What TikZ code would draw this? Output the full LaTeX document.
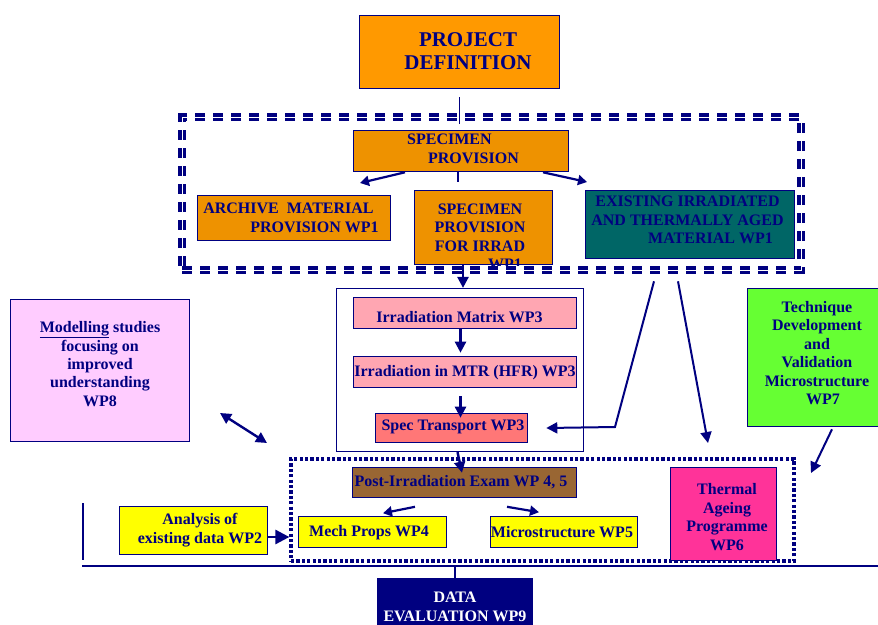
\documentclass[tikz,border=0pt]{standalone}
\usepackage{fontspec}
\setmainfont{Liberation Serif}
\usetikzlibrary{arrows.meta}
\definecolor{nv}{RGB}{0,0,128}
\definecolor{orA}{RGB}{255,153,0}
\definecolor{orB}{RGB}{238,146,0}
\definecolor{cteal}{RGB}{0,102,102}
\definecolor{pinkA}{RGB}{255,166,178}
\definecolor{csal}{RGB}{255,119,119}
\definecolor{brn}{RGB}{153,102,51}
\definecolor{yel}{RGB}{255,255,0}
\definecolor{hot}{RGB}{255,51,153}
\definecolor{lil}{RGB}{255,204,255}
\definecolor{grn}{RGB}{102,255,51}
\begin{document}
\begin{tikzpicture}[x=1pt,y=-1pt,
  box/.style={draw=nv, line width=1.6pt, inner sep=0pt},
  txt/.style={inner sep=0pt, align=center, text=nv, font=\bfseries\fontsize{16}{18.4}\selectfont},
  arr/.style={draw=nv, line width=2.4pt, -{Triangle[length=11pt,width=11pt]}},
  arrs/.style={draw=nv, line width=2.2pt, -{Triangle[length=9pt,width=10pt]}},
  ln/.style={draw=nv, line width=1.5pt},
]
\useasboundingbox[fill=white] (0,0) rectangle (878,624);

% group frames
\node[draw=nv, line width=3.5pt, double=white, double distance=0.6pt, dash pattern=on 10pt off 8pt, minimum width=619pt, minimum height=153pt, inner sep=0pt] (grpA) at (491.5,193.5) {};
\node[draw=nv, line width=3.2pt, dash pattern=on 3.2pt off 2.2pt, minimum width=503pt, minimum height=102pt, inner sep=0pt] (grpB) at (542.5,510) {};
\node[draw=nv, line width=1.2pt, minimum width=247pt, minimum height=163pt, inner sep=0pt] (inner) at (460,370) {};

% boxes
\node[box, fill=orA, minimum width=200pt, minimum height=73pt] (pd) at (459.5,52) {};
\node[box, fill=orB, minimum width=215pt, minimum height=41pt] (sp) at (461,151) {};
\node[box, fill=orB, minimum width=193pt, minimum height=45pt] (am) at (294,218) {};
\node[box, fill=orB, minimum width=138pt, minimum height=74pt] (spi) at (483.5,227.5) {};
\node[box, fill=cteal, minimum width=209pt, minimum height=68pt] (ex) at (690,224.5) {};
\node[box, fill=pinkA, minimum width=223pt, minimum height=31pt] (im) at (465,313) {};
\node[box, fill=pinkA, minimum width=223pt, minimum height=31pt] (mtr) at (465,372) {};
\node[box, fill=csal, minimum width=152pt, minimum height=29pt] (st) at (451.5,428) {};
\node[box, fill=lil, minimum width=179pt, minimum height=142pt] (mod) at (100,370.5) {};
\node[box, fill=grn, minimum width=142pt, minimum height=138pt] (tech) at (818.5,357.5) {};
\node[box, fill=brn, minimum width=224pt, minimum height=30pt] (pie) at (464.5,482.5) {};
\node[box, fill=yel, minimum width=148pt, minimum height=31pt] (mp) at (372.5,532) {};
\node[box, fill=yel, minimum width=147pt, minimum height=31pt] (ms) at (564,532) {};
\node[box, fill=hot, minimum width=106pt, minimum height=93pt] (ta) at (723.5,514) {};
\node[box, fill=yel, minimum width=148pt, minimum height=48pt] (an) at (193.5,530.5) {};
\node[box, fill=nv, minimum width=155pt, minimum height=61pt] (de) at (455,609) {};

% texts
\node[txt, font=\bfseries\fontsize{21}{23}\selectfont] (pdT) at (468,51) {PROJECT\\DEFINITION};
\node[txt, align=left] (spT) at (463,149) {SPECIMEN\\\hspace*{21pt}PROVISION};
\node[txt, align=left] (amT) at (291,218) {ARCHIVE~ MATERIAL\\\hspace*{47pt}PROVISION WP1};
\begin{scope}
\clip (spi.north west) rectangle (spi.south east);
\node[txt] (spiT) at (480,237) {SPECIMEN\\PROVISION\\FOR IRRAD\\\hspace*{50pt}WP1};
\end{scope}
\node[txt] (exT) at (687.5,220) {EXISTING IRRADIATED\\AND THERMALLY AGED\\\hspace*{46pt}MATERIAL WP1};
\node[txt] (imT) at (459.5,317) {Irradiation Matrix WP3};
\node[txt] (mtrT) at (465,373) {Irradiation in MTR (HFR) WP3};
\node[txt] (stT) at (453,427) {Spec Transport WP3};
\node[txt] (modT) at (100,364) {\underline{Modelling} studies\\focusing on\\improved\\understanding\\WP8};
\node[txt] (techT) at (817,353) {Technique\\Development\\and\\Validation\\Microstructure\hspace*{15pt}\\\hspace*{12pt}WP7};
\node[txt] (pieT) at (461,482) {Post-Irradiation Exam WP 4, 5};
\node[txt] (mpT) at (369,533) {Mech Props WP4};
\node[txt] (msT) at (562,532) {Microstructure WP5};
\node[txt] (taT) at (727,517) {Thermal\\Ageing\\Programme\\WP6};
\node[txt] (anT) at (200,530) {Analysis of\\existing data WP2};
\node[txt, text=white] (deT) at (455,607) {DATA\\EVALUATION WP9};

% free ends
\coordinate (pdEnd) at (459.5,124);
\coordinate (spL) at (360,183);
\coordinate (spR) at (587,182);
\coordinate (exK) at (615,427);
\coordinate (exE) at (708,443);
\coordinate (techE) at (811,473);
\coordinate (m1) at (220,413);
\coordinate (m2) at (267,443);
\coordinate (v1) at (83,503);
\coordinate (v2) at (83,560);
\coordinate (h1) at (82,566);
\coordinate (h2) at (878,566);

% connectors
\draw[ln] ([yshift=-8pt]pd.south) -- (pdEnd);
\draw[ln] ([xshift=-3pt]sp.south) -- ++(0,10);
\draw[arrs] ([xshift=-56pt]sp.south) -- (spL);
\draw[arrs] ([xshift=82pt]sp.south) -- (spR);
\draw[arr] ([xshift=-20.5pt]spi.south) -- ([xshift=-20.5pt]spi.south |- inner.north);
\draw[arr] ([xshift=-4.5pt]im.south) -- ([xshift=-4.5pt,yshift=3pt]mtr.north);
\draw[arr] ([xshift=-4.5pt,yshift=-8pt]mtr.south) -- ([xshift=9pt,yshift=-5pt]st.north);
\draw[arr, line width=2pt] ([xshift=-36pt,yshift=-22pt]ex.south) -- (exK) -- ([xshift=18pt]st.east);
\draw[arr, line width=2pt] ([xshift=-12pt,yshift=-22pt]ex.south) -- (exE);
\draw[arr, line width=2pt] ([xshift=13.5pt,yshift=-2pt]tech.south) -- (techE);
\draw[draw=nv, line width=2.4pt, {Triangle[length=11pt,width=11pt]}-{Triangle[length=11pt,width=11pt]}] (m1) -- (m2);
\draw[arr] ([xshift=-2.5pt]inner.south) -- ([xshift=-2.5pt,yshift=-6pt]pie.north);
\draw[arrs] ([xshift=-49.5pt,yshift=-8.5pt]pie.south) -- ([xshift=10.5pt,yshift=2.5pt]mp.north);
\draw[arrs] ([xshift=42.5pt,yshift=-8.5pt]pie.south) -- ([xshift=-25pt,yshift=3.5pt]ms.north);
\draw[draw=nv, line width=2.6pt, -{Triangle[length=14pt,width=14pt]}] ([yshift=-6.5pt]an.east) -- ([yshift=-6.5pt]an.east -| grpB.west);
\draw[ln] (v1) -- (v2);
\draw[ln, line width=2pt] (h1) -- (h2);
\draw[ln] (de.north) -- (de.north |- h1);
\end{tikzpicture}
\end{document}
